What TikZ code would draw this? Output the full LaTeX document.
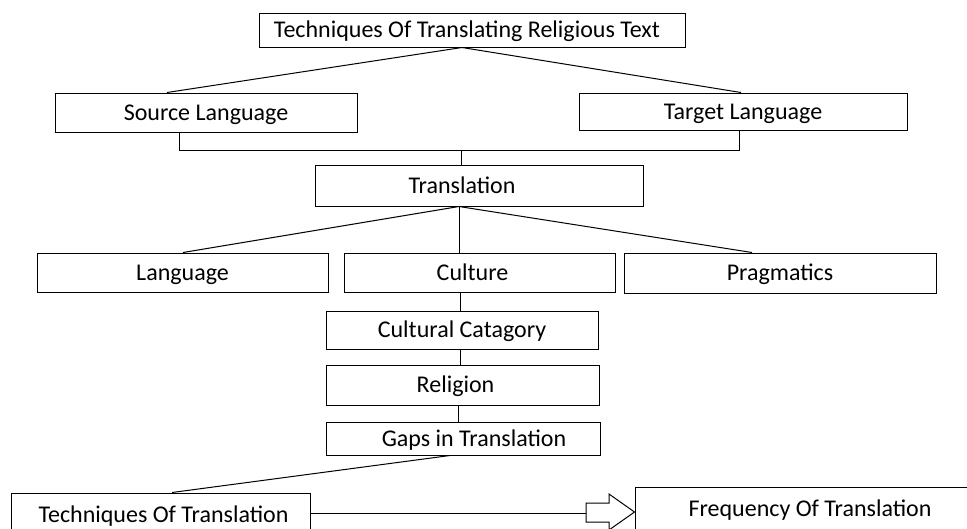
\documentclass[tikz,border=0pt]{standalone}
\usepackage{fontspec}
\setmainfont{Carlito}
\begin{document}
\begin{tikzpicture}[x=1pt,y=-1pt,
  box/.style={draw=black, line width=1pt, fill=white, inner sep=0pt, text height=18pt, text depth=3pt, font=\fontsize{24}{28}\selectfont},
  conn/.style={draw=black, line width=1pt}]
\useasboundingbox (0,0) rectangle (967,528);
% nodes
\node[box, minimum width=426pt, minimum height=34pt] (top) at (472,30) {\hspace*{-10pt}Techniques Of Translating Religious Text};
\node[box, minimum width=302pt, minimum height=39pt] (src) at (206,112.5) {Source Language};
\node[box, minimum width=328pt, minimum height=37pt] (tgt) at (743,111.5) {Target Language};
\node[box, minimum width=328pt, minimum height=41pt] (trans) at (479,185.5) {\hspace*{-34pt}Translation};
\node[box, minimum width=291pt, minimum height=39pt] (lang) at (182.5,272.5) {Language};
\node[box, minimum width=271pt, minimum height=39pt] (cult) at (479.5,272.5) {\hspace*{-14pt}Culture};
\node[box, minimum width=312pt, minimum height=40pt] (prag) at (780,273) {Pragmatics};
\node[box, minimum width=272pt, minimum height=38pt] (catg) at (462,330) {Cultural Catagory};
\node[box, minimum width=273pt, minimum height=40pt] (relig) at (462.5,385) {\hspace*{-14pt}Religion};
\node[box, minimum width=274pt, minimum height=33pt] (gaps) at (463,438.5) {\hspace*{22pt}Gaps in Translation};
\node[box, minimum width=299pt, minimum height=44pt] (tech) at (160.5,515) {\hspace*{6pt}Techniques Of Translation};
\node[box, minimum width=365pt, minimum height=43pt] (freq) at (817.5,508.5) {\hspace*{-15pt}Frequency Of Translation};
% connectors
\coordinate (apex1) at ([xshift=-10pt]top.south);
\draw[conn] (apex1) -- (src.north -| 167,0);
\draw[conn] (apex1) -- (tgt.north -| 741,0);
\coordinate (brL) at (179,150);
\coordinate (brR) at (739,150);
\draw[conn] (src.south -| brL) -- (brL) -- (brR) -- (tgt.south -| brR);
\draw[conn] (trans.north -| 461,0) -- (461,150);
\coordinate (apex2) at (459,206.5);
\draw[conn] (apex2) -- (lang.north -| 183,0);
\draw[conn] (apex2) -- (cult.north -| apex2);
\draw[conn] (apex2) -- (prag.north -| 752,0);
\draw[conn] (cult.south -| 460,0) -- (catg.north -| 460,0);
\draw[conn] (catg.south -| 460,0) -- (relig.north -| 460,0);
\draw[conn] (relig.south -| 458,0) -- (gaps.north -| 458,0);
\draw[conn] (gaps.south -| 450,0) -- (tech.north -| 172,0);
% block arrow
\coordinate (arrS) at (586,513);
\draw[conn] (tech.east |- arrS) -- (arrS);
\draw[conn, fill=white] (586,503) -- (609,503) -- (609,494) -- (freq.west |- 0,512) -- (609,530) -- (609,522) -- (586,522) -- cycle;
\end{tikzpicture}
\end{document}
